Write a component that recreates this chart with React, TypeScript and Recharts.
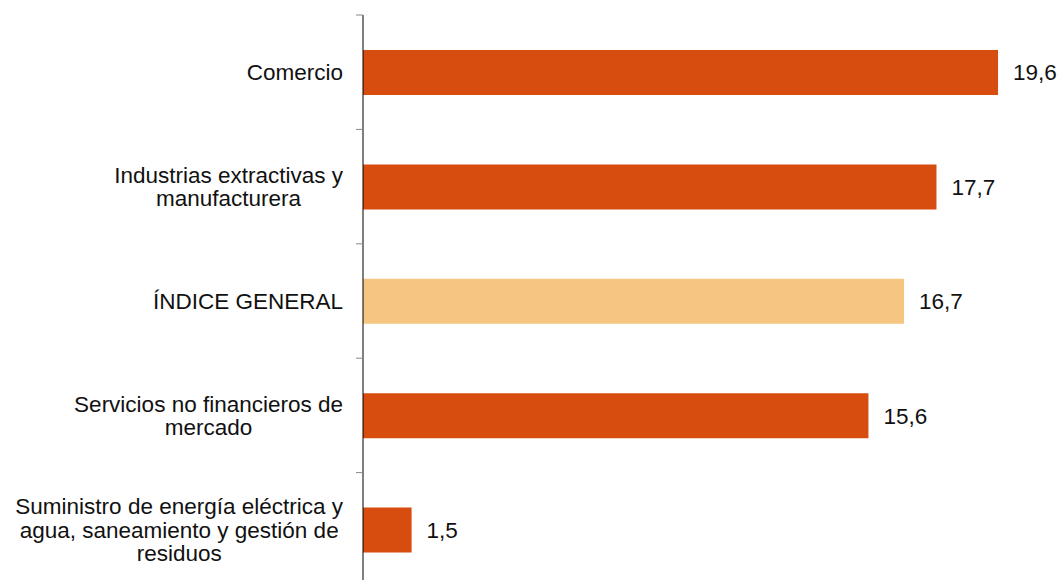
import React from "react";
import { BarChart, Bar, XAxis, YAxis, Cell, LabelList } from "recharts";

const categories = [
  ["Comercio"],
  ["Industrias extractivas y", "manufacturera"],
  ["ÍNDICE GENERAL"],
  ["Servicios no financieros de", "mercado"],
  ["Suministro de energía eléctrica y", "agua, saneamiento y gestión de", "residuos"],
];
const values = [19.6, 17.7, 16.7, 15.6, 1.5];
const highlight = [false, false, true, false, false];

const DARK = "#D74C0F";
const LIGHT = "#F5C581";
const FONT = "'Liberation Sans', Arial, sans-serif";
const FONT_SIZE = 22.5;
const LINE_H = 23.6;

const W = 1060;
const H = 600;
const M = { top: 15, right: 49, bottom: 13, left: 0 };
const BAND = (H - M.top - M.bottom) / categories.length;

const data = categories.map((lines, i) => ({
  name: lines.join(" "),
  lines,
  value: values[i],
  hl: highlight[i],
}));

let ctx: CanvasRenderingContext2D | null = null;
function measure(s: string) {
  if (!ctx) ctx = document.createElement("canvas").getContext("2d");
  if (!ctx) return s.length * 10;
  ctx.font = `${FONT_SIZE}px ${FONT}`;
  return ctx.measureText(s).width;
}

function CatTick(props: any) {
  const { x, y, index } = props;
  const lines = categories[index] || [];
  const maxW = Math.max(...lines.map(measure));
  const cx = x - 20 - maxW / 2;
  const start = -((lines.length - 1) * LINE_H) / 2;
  return (
    <g>
      <line x1={x - 7} x2={x} y1={y - BAND / 2} y2={y - BAND / 2} stroke="#888" />
      <text
        x={cx}
        y={y + start}
        textAnchor="middle"
        dominantBaseline="central"
        fontFamily={FONT}
        fontSize={FONT_SIZE}
        fill="#111"
      >
        {lines.map((l, i) => (
          <tspan key={i} x={cx} dy={i === 0 ? 0 : LINE_H}>
            {l}
          </tspan>
        ))}
      </text>
    </g>
  );
}

export default function App() {
  return (
    <div
      style={{
        position: "fixed",
        top: 0,
        left: 0,
        width: W,
        height: 580,
        overflow: "hidden",
        background: "#fff",
      }}
    >
      <BarChart width={W} height={H} data={data} layout="vertical" margin={M}>
        <XAxis type="number" domain={[0, 20]} hide />
        <YAxis
          type="category"
          dataKey="name"
          width={363}
          axisLine={{ stroke: "#000" }}
          tickLine={false}
          tickSize={0}
          tickMargin={0}
          interval={0}
          tick={<CatTick />}
        />
        <Bar dataKey="value" barSize={45} isAnimationActive={false}>
          {data.map((d, i) => (
            <Cell key={i} fill={d.hl ? LIGHT : DARK} />
          ))}
          <LabelList
            dataKey="value"
            position="right"
            offset={15}
            formatter={(v: any) => Number(v).toFixed(1).replace(".", ",")}
            style={{ fontFamily: FONT, fontSize: FONT_SIZE, fill: "#111" }}
          />
        </Bar>
      </BarChart>
    </div>
  );
}
